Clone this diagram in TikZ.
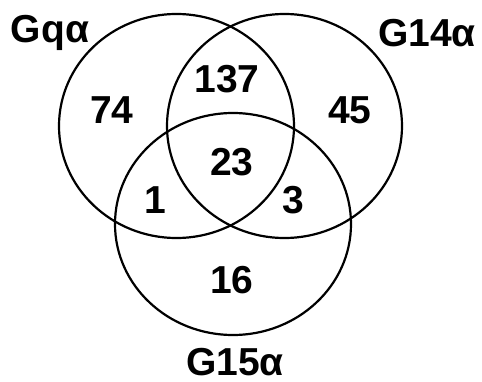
\documentclass[tikz,border=0pt]{standalone}
\usepackage{fontspec}
\setmainfont{Liberation Sans}
\begin{document}
\begin{tikzpicture}[x=1pt,y=-1pt,
  setcircle/.style={draw=black,line width=2.2pt},
  lbl/.style={font=\fontsize{39}{39}\selectfont\bfseries,inner sep=0pt,anchor=center}]
\useasboundingbox[fill=white] (0,0) rectangle (482,382);
\draw[setcircle] (176.5,126) ellipse [x radius=117.5pt, y radius=112pt];
\draw[setcircle] (284.5,126) ellipse [x radius=117.5pt, y radius=112pt];
\draw[setcircle] (233,224) ellipse [x radius=118pt, y radius=111pt];
\node[lbl] (gq) at (50,33) {Gqα};
\node[lbl] (g14) at (427,33) {G14α};
\node[lbl] (g15) at (235,362) {G15α};
\node[lbl] (n74) at (112,110) {74};
\node[lbl] (n137) at (227,79) {137};
\node[lbl] (n45) at (350,110) {45};
\node[lbl] (n23) at (232,162) {23};
\node[lbl] (n1) at (155,200) {1};
\node[lbl] (n3) at (293,200) {3};
\node[lbl] (n16) at (232,280) {16};
\end{tikzpicture}
\end{document}
